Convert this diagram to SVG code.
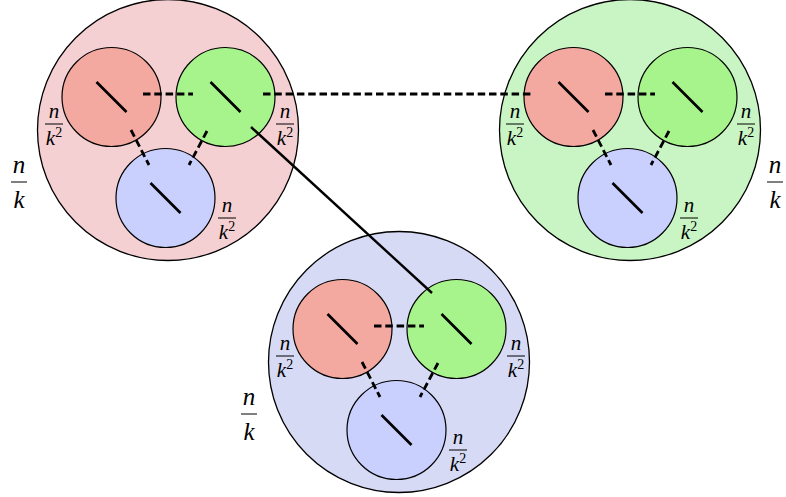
<svg xmlns="http://www.w3.org/2000/svg" width="786" height="497" viewBox="0 0 786 497">
<style>
.big{stroke:#000;stroke-width:1.3}
.sm{stroke:#000;stroke-width:1.2}
.pinkbig{fill:#F5D0D3}
.greenbig{fill:#C9F5C4}
.bluebig{fill:#D6DAF5}
.r{fill:#F3A8A0}
.g{fill:#A8F48C}
.b{fill:#C9D0FE}
.slash{stroke:#000;stroke-width:2.7;stroke-linecap:butt}
.dash{stroke:#000;stroke-width:2.8;stroke-dasharray:7.5 3.8;fill:none}
.solid{stroke:#000;stroke-width:2.4;fill:none}
.bar{stroke:#000;stroke-width:1}
.ls{font-family:"Liberation Serif","DejaVu Serif",serif;font-style:italic;font-size:21px;fill:#000;text-anchor:middle}
.lb{font-family:"Liberation Serif","DejaVu Serif",serif;font-style:italic;font-size:25px;fill:#000;text-anchor:middle}
.sup{font-style:normal;font-size:14px}
</style>

<!-- Cluster A (top-left, pink) -->
<g id="A" transform="translate(168,130)">
<circle class="big pinkbig" cx="0" cy="0" r="130.5"/>
<text class="lb" x="-149" y="43">n</text>
<line class="bar" x1="-157" y1="52" x2="-141" y2="52"/>
<text class="lb" x="-149" y="78">k</text>
<g id="A-red">
<circle class="sm r" cx="-56.5" cy="-33" r="49.5"/>
<line class="slash" x1="-71.5" y1="-48" x2="-41.5" y2="-18"/>
<text class="ls" x="-114" y="-12.5">n</text>
<line class="bar" x1="-123" y1="-6" x2="-105" y2="-6"/>
<text class="ls" x="-114" y="14.5">k<tspan class="sup" dy="-8">2</tspan></text>
</g>
<g id="A-green">
<circle class="sm g" cx="57.5" cy="-33" r="49.5"/>
<line class="slash" x1="42.5" y1="-48" x2="72.5" y2="-18"/>
<text class="ls" x="117" y="-12.5">n</text>
<line class="bar" x1="108" y1="-6" x2="126" y2="-6"/>
<text class="ls" x="117" y="14.5">k<tspan class="sup" dy="-8">2</tspan></text>
</g>
<g id="A-blue">
<circle class="sm b" cx="-2.5" cy="68" r="49.5"/>
<line class="slash" x1="-17.5" y1="53" x2="12.5" y2="83"/>
<text class="ls" x="59" y="81.5">n</text>
<line class="bar" x1="50" y1="88" x2="68" y2="88"/>
<text class="ls" x="59" y="108.5">k<tspan class="sup" dy="-8">2</tspan></text>
</g>
</g>

<!-- Cluster B (top-right, green) -->
<g id="B" transform="translate(630,130)">
<circle class="big greenbig" cx="0" cy="0" r="130.5"/>
<text class="lb" x="145" y="43">n</text>
<line class="bar" x1="137" y1="52" x2="153" y2="52"/>
<text class="lb" x="145" y="78">k</text>
<g id="B-red">
<circle class="sm r" cx="-56.5" cy="-33" r="49.5"/>
<line class="slash" x1="-71.5" y1="-48" x2="-41.5" y2="-18"/>
<text class="ls" x="-115" y="-12.5">n</text>
<line class="bar" x1="-124" y1="-6" x2="-106" y2="-6"/>
<text class="ls" x="-115" y="14.5">k<tspan class="sup" dy="-8">2</tspan></text>
</g>
<g id="B-green">
<circle class="sm g" cx="57.5" cy="-33" r="49.5"/>
<line class="slash" x1="42.5" y1="-48" x2="72.5" y2="-18"/>
<text class="ls" x="116" y="-12.5">n</text>
<line class="bar" x1="107" y1="-6" x2="125" y2="-6"/>
<text class="ls" x="116" y="14.5">k<tspan class="sup" dy="-8">2</tspan></text>
</g>
<g id="B-blue">
<circle class="sm b" cx="-2.5" cy="68" r="49.5"/>
<line class="slash" x1="-17.5" y1="53" x2="12.5" y2="83"/>
<text class="ls" x="59" y="81.5">n</text>
<line class="bar" x1="50" y1="88" x2="68" y2="88"/>
<text class="ls" x="59" y="108.5">k<tspan class="sup" dy="-8">2</tspan></text>
</g>
</g>

<!-- Cluster C (bottom, blue) -->
<g id="C" transform="translate(399,362)">
<circle class="big bluebig" cx="0" cy="0" r="130.5"/>
<text class="lb" x="-150" y="43">n</text>
<line class="bar" x1="-158" y1="52" x2="-142" y2="52"/>
<text class="lb" x="-150" y="78">k</text>
<g id="C-red">
<circle class="sm r" cx="-56.5" cy="-33" r="49.5"/>
<line class="slash" x1="-71.5" y1="-48" x2="-41.5" y2="-18"/>
<text class="ls" x="-114" y="-12.5">n</text>
<line class="bar" x1="-123" y1="-6" x2="-105" y2="-6"/>
<text class="ls" x="-114" y="14.5">k<tspan class="sup" dy="-8">2</tspan></text>
</g>
<g id="C-green">
<circle class="sm g" cx="57.5" cy="-33" r="49.5"/>
<line class="slash" x1="42.5" y1="-48" x2="72.5" y2="-18"/>
<text class="ls" x="117" y="-12.5">n</text>
<line class="bar" x1="108" y1="-6" x2="126" y2="-6"/>
<text class="ls" x="117" y="14.5">k<tspan class="sup" dy="-8">2</tspan></text>
</g>
<g id="C-blue">
<circle class="sm b" cx="-2.5" cy="68" r="49.5"/>
<line class="slash" x1="-17.5" y1="53" x2="12.5" y2="83"/>
<text class="ls" x="59" y="81.5">n</text>
<line class="bar" x1="50" y1="88" x2="68" y2="88"/>
<text class="ls" x="59" y="108.5">k<tspan class="sup" dy="-8">2</tspan></text>
</g>
</g>

<!-- Connectors -->
<g id="connectors">
<line class="dash" x1="143" y1="94" x2="193" y2="94"/>
<line class="dash" x1="131" y1="130" x2="149" y2="165"/>
<line class="dash" x1="207" y1="131" x2="189" y2="165"/>
<line class="dash" x1="605" y1="94" x2="655" y2="94"/>
<line class="dash" x1="593" y1="130" x2="611" y2="165"/>
<line class="dash" x1="669" y1="131" x2="651" y2="165"/>
<line class="dash" x1="374" y1="326" x2="424" y2="326"/>
<line class="dash" x1="362" y1="362" x2="380" y2="397"/>
<line class="dash" x1="438" y1="363" x2="420" y2="397"/>
<line class="dash" x1="263" y1="94" x2="533" y2="94"/>
<line class="solid" x1="251" y1="127" x2="432" y2="293"/>
</g>
</svg>
